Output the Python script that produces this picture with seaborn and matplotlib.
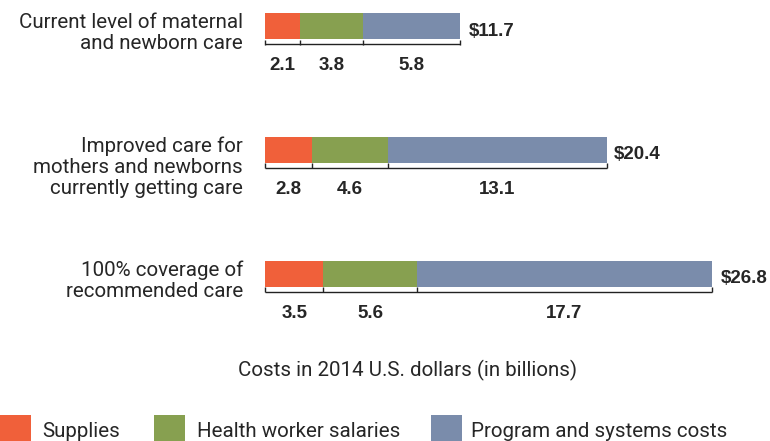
import matplotlib
matplotlib.use("Agg")
import matplotlib.pyplot as plt
import seaborn as sns
import pandas as pd
import numpy as np
from matplotlib.patches import Rectangle

categories = ["Current level of maternal\nand newborn care",
              "Improved care for\nmothers and newborns\ncurrently getting care",
              "100% coverage of\nrecommended care"]
supplies = [2.1, 2.8, 3.5]
salaries = [3.8, 4.6, 5.6]
program = [5.8, 13.1, 17.7]
totals = [11.7, 20.4, 26.8]
series_names = ["Supplies", "Health worker salaries", "Program and systems costs"]
colors = ["#F0603A", "#87A050", "#7A8CAB"]
xlabel = "Costs in 2014 U.S. dollars (in billions)"

sns.set_style("white")
REG = ['Roboto', 'DejaVu Sans']
BOLD = ['Liberation Sans', 'DejaVu Sans']
REG_SIZE = 14.8
BOLD_SIZE = 13.5

W, H = 770, 441
fig = plt.figure(figsize=(W / 100, H / 100), dpi=100)
ax = fig.add_axes([0, 0, 1, 1])

df = pd.DataFrame({"cat": categories, "s": supplies, "h": salaries, "p": program})
df["c1"] = df["s"]
df["c2"] = df["s"] + df["h"]
df["c3"] = df["s"] + df["h"] + df["p"]

# pixel mapping
x0px, scale = 265, 16.67
step = 123.6
bar_px = 26.0
bw = bar_px / step

for col, c in zip(["c3", "c2", "c1"], colors[::-1]):
    sns.barplot(data=df, x=col, y="cat", orient="h", color=c, width=bw,
                linewidth=0, saturation=1, ax=ax)

ax.set_xlim(-x0px / scale, (W - x0px) / scale)
top = -26.3 / step
ax.set_ylim(2 + (H - 273.5) / step, top)
ax.axis("off")


def ypx(v):
    return (v - top) * step


def to_data_y(py):
    return py / step + top


for i in range(len(categories)):
    segs = [supplies[i], salaries[i], program[i]]
    edges = np.concatenate([[0], np.cumsum(segs)])
    ypx_bot = ypx(i + bw / 2)
    ypx_top = ypx(i - bw / 2)
    yline = to_data_y(ypx_bot + 5)
    ax.plot([edges[0], edges[-1]], [yline, yline], color="#222222", lw=1.0,
            solid_capstyle="butt")
    for e in edges:
        ax.plot([e, e], [to_data_y(ypx_bot + 0.5), to_data_y(ypx_bot + 5.5)],
                color="#222222", lw=1.0, solid_capstyle="butt")
    for j, v in enumerate(segs):
        xc = (edges[j] + edges[j + 1]) / 2
        ax.text(xc, to_data_y(ypx_bot + 31), f"{v:.1f}", ha="center", va="baseline",
                fontsize=BOLD_SIZE, fontweight="bold", family=BOLD)
    ax.text(totals[i] + 9 / scale, to_data_y(ypx(i) + 9.5), f"${totals[i]:.1f}",
            ha="left", va="baseline", fontsize=BOLD_SIZE, fontweight="bold", family=BOLD)
    for k, line in enumerate(categories[i].split("\n")):
        ax.text(-22 / scale, to_data_y(ypx_top + 15 + 21 * k), line, ha="right",
                va="baseline", fontsize=REG_SIZE, family=REG)

fig.text(408 / W, 1 - 376 / H, xlabel, ha="center", va="baseline",
         fontsize=REG_SIZE, family=REG)

# legend
leg = [(0, 42), (154, 197), (431, 471)]
for (sx, tx), name, c in zip(leg, series_names, colors):
    fig.patches.append(Rectangle((sx / W, 0), 31 / W, 26 / H, transform=fig.transFigure,
                                 facecolor=c, edgecolor="none"))
    fig.text(tx / W, 1 - 437 / H, name, ha="left", va="baseline",
             fontsize=REG_SIZE, family=REG)

fig.savefig("out.png", dpi=100)
